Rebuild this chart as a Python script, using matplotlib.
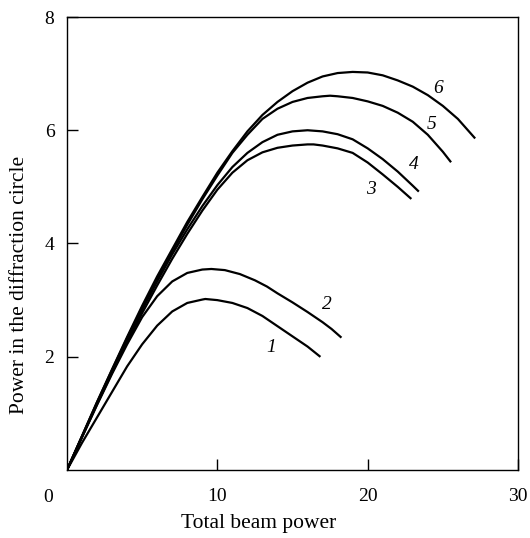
import matplotlib.pyplot as plt

# Curves (x = total beam power, y = power in diffraction circle)
x1 = [0, 1, 2, 3, 4, 5, 6, 7, 8, 9, 9.2, 10, 11, 12, 13, 14, 15, 16, 16.8]
y1 = [0, 0.48, 0.93, 1.38, 1.83, 2.22, 2.55, 2.8, 2.95, 3.01, 3.02, 3.0, 2.95, 2.86, 2.72, 2.54, 2.36, 2.18, 2.01]

x2 = [0, 1, 2, 3, 4, 5, 6, 7, 8, 9, 9.6, 10.5, 11.5, 12.5, 13.3, 14, 15, 16, 17, 17.6, 18.2]
y2 = [0, 0.58, 1.15, 1.7, 2.22, 2.7, 3.07, 3.33, 3.48, 3.54, 3.55, 3.53, 3.46, 3.35, 3.24, 3.12, 2.96, 2.79, 2.61, 2.49, 2.35]

x3 = [0, 1, 2, 3, 4, 5, 6, 7, 8, 9, 10, 11, 12, 13, 14, 15, 16, 16.4, 17, 18, 19, 20, 21, 22, 22.85]
y3 = [0, 0.58, 1.16, 1.72, 2.25, 2.77, 3.26, 3.73, 4.17, 4.58, 4.95, 5.25, 5.47, 5.61, 5.69, 5.73, 5.75, 5.75, 5.73, 5.68, 5.6, 5.43, 5.22, 5.0, 4.8]

x4 = [0, 1, 2, 3, 4, 5, 6, 7, 8, 9, 10, 11, 12, 13, 14, 15, 16, 17, 18, 19, 20, 21, 22, 23, 23.35]
y4 = [0, 0.59, 1.18, 1.75, 2.3, 2.83, 3.33, 3.81, 4.25, 4.66, 5.03, 5.35, 5.6, 5.79, 5.92, 5.98, 6.0, 5.98, 5.93, 5.84, 5.68, 5.49, 5.27, 5.02, 4.93]

x5 = [0, 1, 2, 3, 4, 5, 6, 7, 8, 9, 10, 11, 12, 13, 14, 15, 16, 17, 17.5, 18, 19, 20, 21, 22, 23, 24, 25, 25.5]
y5 = [0, 0.6, 1.2, 1.77, 2.33, 2.87, 3.38, 3.86, 4.33, 4.78, 5.2, 5.6, 5.92, 6.2, 6.38, 6.5, 6.57, 6.6, 6.61, 6.6, 6.57, 6.51, 6.43, 6.31, 6.15, 5.92, 5.62, 5.45]

x6 = [0, 1, 2, 3, 4, 5, 6, 7, 8, 9, 10, 11, 12, 13, 14, 15, 16, 17, 18, 19, 20, 21, 22, 23, 24, 25, 26, 27.1]
y6 = [0, 0.6, 1.2, 1.78, 2.35, 2.9, 3.42, 3.9, 4.38, 4.82, 5.25, 5.63, 5.98, 6.27, 6.5, 6.69, 6.84, 6.95, 7.01, 7.03, 7.02, 6.97, 6.88, 6.77, 6.62, 6.43, 6.2, 5.87]

curve_labels = ['1', '2', '3', '4', '5', '6']
label_x = [13.55, 17.28, 20.2, 23.04, 24.26, 24.7]
label_y = [2.17, 2.92, 4.96, 5.39, 6.11, 6.74]

x_ticks = [10, 20, 30]
y_ticks = [2, 4, 6, 8]

plt.rcParams['font.family'] = ['Liberation Serif', 'DejaVu Serif']

fig = plt.figure(figsize=(5.3, 5.38), dpi=100)
ax = fig.add_axes([0.1264, 0.1264, 0.851, 0.842])

for xs, ys in [(x1, y1), (x2, y2), (x3, y3), (x4, y4), (x5, y5), (x6, y6)]:
    ax.plot(xs, ys, color='black', linewidth=1.6, solid_joinstyle='round')

for lab, lx, ly in zip(curve_labels, label_x, label_y):
    ax.text(lx, ly, lab, fontsize=14, style='italic', ha='center', va='center')

ax.set_xlim(0, 30)
ax.set_ylim(0, 8)
ax.set_xticks(x_ticks)
ax.set_yticks(y_ticks)
ax.tick_params(direction='in', length=8, width=1, labelsize=14)
ax.tick_params(axis='x', pad=13)
ax.tick_params(axis='y', pad=9)
for s in ax.spines.values():
    s.set_linewidth(1)

# origin label sits off the corner, as in the reference
ax.text(-0.042, -0.06, '0', transform=ax.transAxes, fontsize=14,
        ha='center', va='center')

ax.text(0.424, -0.118, 'Total beam power', transform=ax.transAxes,
        fontsize=15.5, ha='center', va='center')
ax.text(-0.106, 0.408, 'Power in the diffraction circle', transform=ax.transAxes,
        fontsize=15.5, ha='center', va='center', rotation=90)

fig.savefig('out.png', dpi=100)
